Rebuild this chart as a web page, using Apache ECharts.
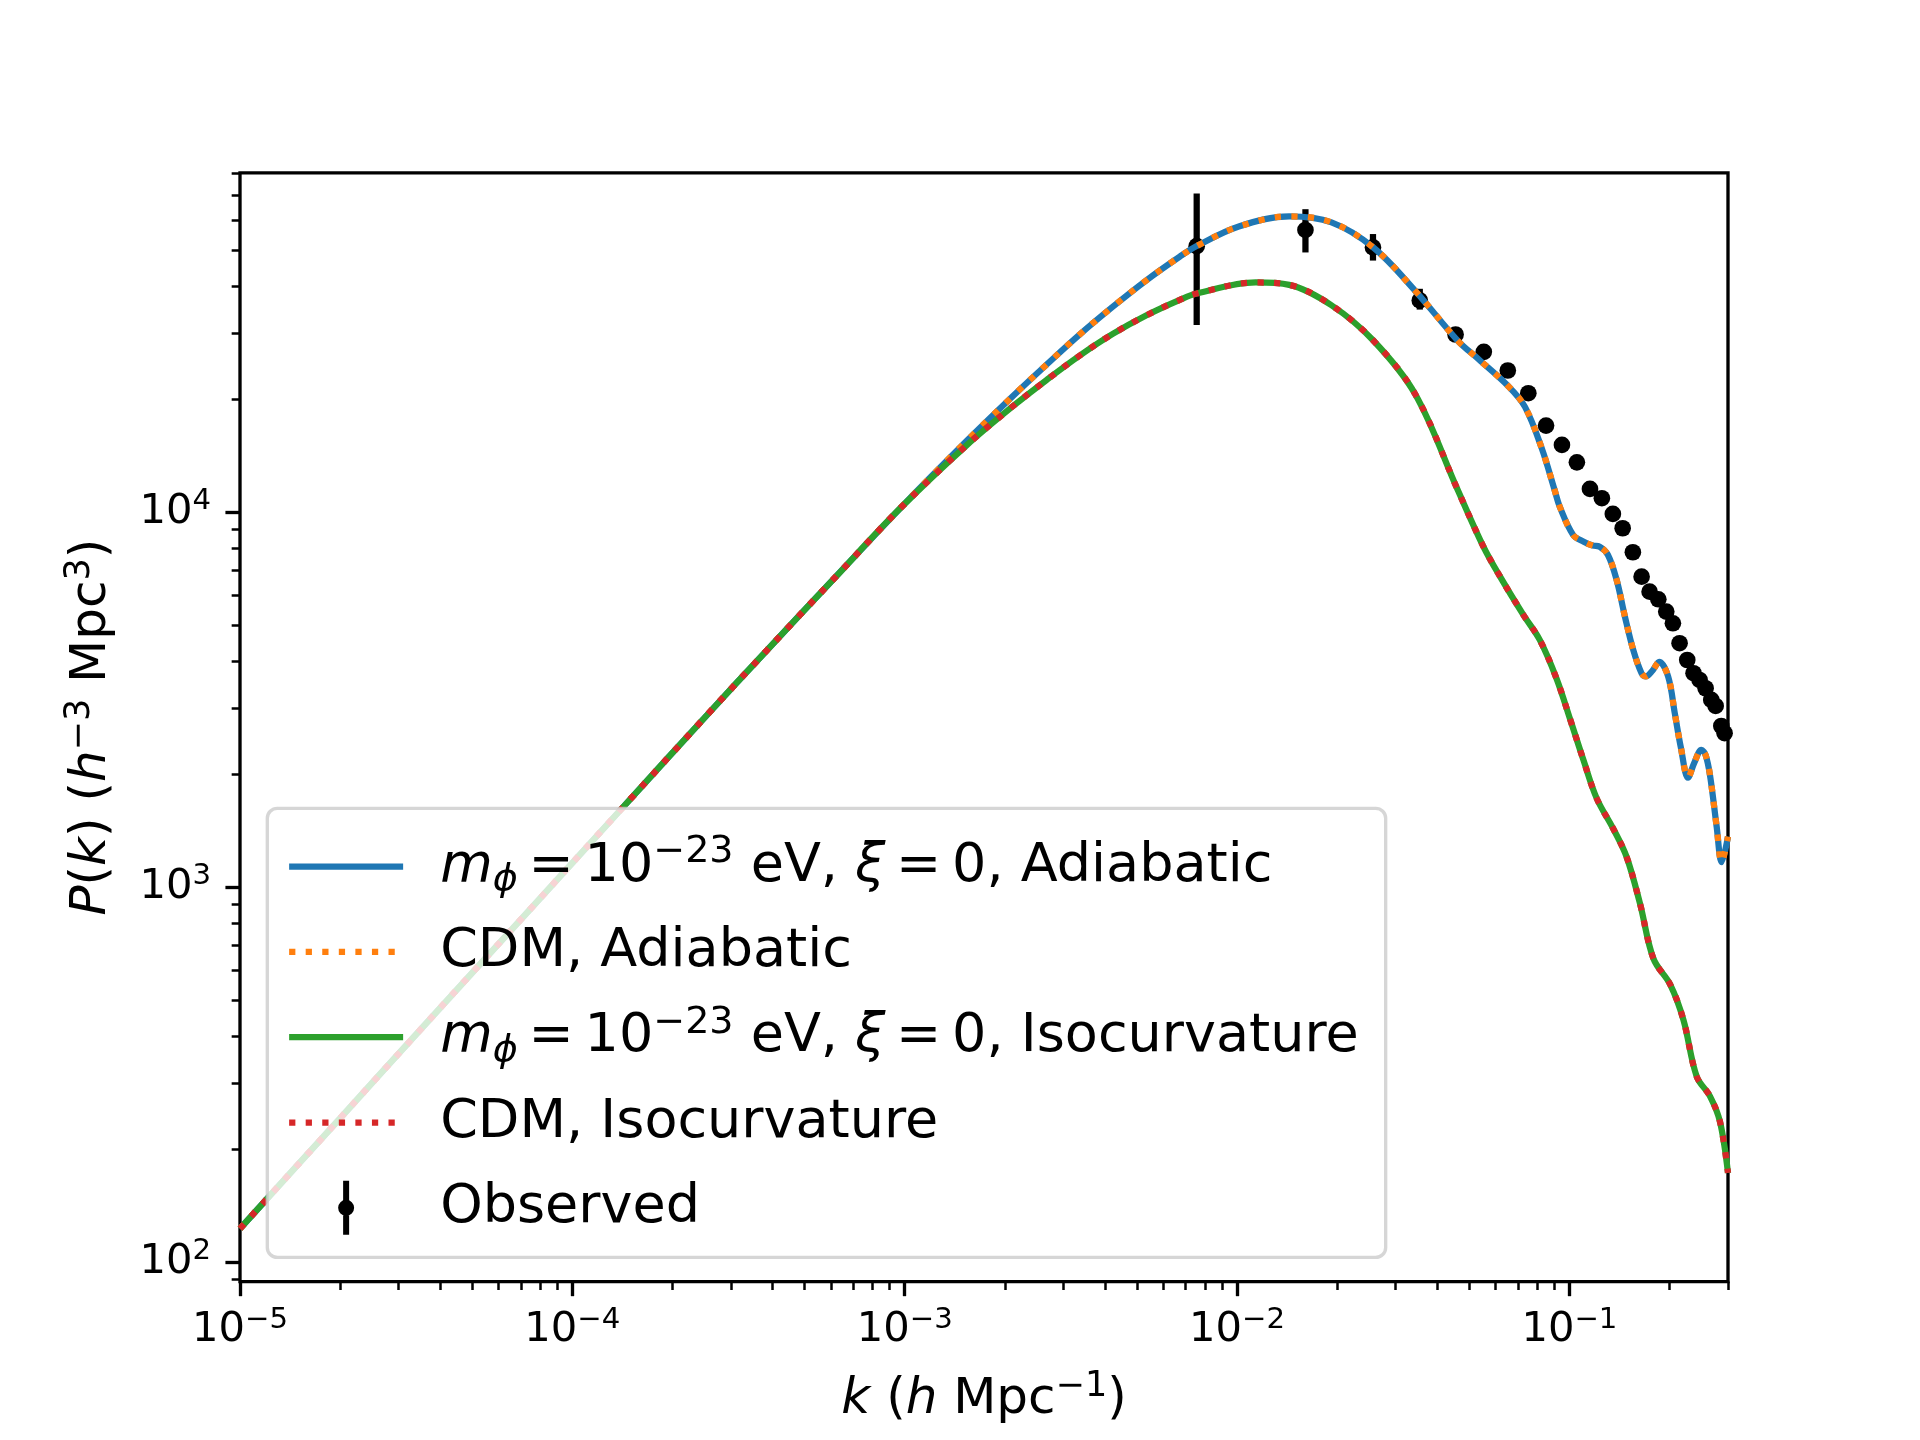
<!DOCTYPE html>
<html>
<head>
<meta charset="utf-8">
<title>Matter power spectrum</title>
<script src="https://cdn.jsdelivr.net/npm/echarts@6.0.0/dist/echarts.min.js"></script>
<style>
  html, body { margin: 0; padding: 0; background: #fff; }
  #chart { width: 1920px; height: 1440px; }
</style>
</head>
<body>
<div id="chart"></div>
<script>
// adiabatic spectrum (fuzzy DM and CDM lie on top of each other)
const kAdiabatic = [1.0e-5, 2.0e-5, 3.73e-5, 7.45e-5, 1.44e-4, 2.535e-4, 3.842e-4, 6.096e-4, 9.674e-4, 1.535e-3,
  2.121e-3, 2.673e-3, 3.365e-3, 4.239e-3, 5.340e-3, 6.726e-3, 7.56e-3, 0.01012, 0.01435, 0.01923,
  0.0257, 0.0344, 0.0461, 0.0533, 0.0655, 0.0735, 0.0826, 0.0902, 0.0935, 0.1026,
  0.1104, 0.1175, 0.1233, 0.1306, 0.1387, 0.1469, 0.1556, 0.1648, 0.1698, 0.1778,
  0.1862, 0.1982, 0.2075, 0.2163, 0.2275, 0.2371, 0.2495, 0.2570, 0.2649, 0.2773,
  0.2871, 0.3];
const pAdiabatic = [123, 242, 445, 872, 1657, 2871, 4279, 6621, 10230, 15490,
  20460, 24770, 29820, 35400, 41590, 48060, 51290, 57810, 61520, 59290,
  50820, 38900, 28710, 25590, 21680, 19100, 14790, 11480, 10350, 8700,
  8350, 8150, 8094, 7693, 6600, 5267, 4294, 3722, 3650, 3780,
  3990, 3645, 2911, 2366, 1959, 2140, 2325, 2250, 1986, 1452,
  1167, 1365];

// isocurvature spectrum (again both models overlap)
const kIsocurv = [1.0e-5, 2.0e-5, 3.73e-5, 7.45e-5, 1.44e-4, 2.535e-4, 3.842e-4, 6.096e-4, 9.674e-4, 1.535e-3,
  2.121e-3, 2.673e-3, 3.365e-3, 4.239e-3, 5.340e-3, 6.726e-3, 7.56e-3, 0.01138, 0.01435, 0.01923,
  0.0257, 0.0344, 0.0461, 0.0550, 0.0618, 0.0726, 0.0815, 0.0914, 0.1005, 0.1102,
  0.1208, 0.1355, 0.1486, 0.1629, 0.1791, 0.2009, 0.2203, 0.2415, 0.2649, 0.2838,
  0.3];
const pIsocurv = [123, 242, 445, 872, 1657, 2871, 4279, 6621, 10230, 15080,
  19210, 22540, 26190, 29940, 33520, 36850, 38300, 41000, 40400, 35650,
  28710, 20610, 11480, 8128, 6745, 5333, 4560, 3606, 2805, 2183,
  1726, 1432, 1205, 908, 644, 551, 443, 313, 277, 237,
  173];

// observed band powers
const kObserved = [0.00756, 0.01606, 0.02564, 0.03546, 0.04544, 0.05526, 0.06525, 0.07522, 0.08505, 0.09495,
  0.1053, 0.1153, 0.1252, 0.1351, 0.1446, 0.1552, 0.1649, 0.1743, 0.1851, 0.1956,
  0.2048, 0.2145, 0.2262, 0.2363, 0.2464, 0.2569, 0.2672, 0.2754, 0.2864, 0.2930];
const pObserved = [51240, 56600, 50860, 36720, 29790, 26780, 23880, 20770, 17030, 15120,
  13590, 11540, 10900, 9900, 9065, 7823, 6734, 6142, 5861, 5433,
  5058, 4475, 4037, 3722, 3571, 3394, 3159, 3044, 2692, 2575];
// error bars, only visible on the first four points
const errLow = [31600, 49300, 46900, 34710];
const errHigh = [70800, 64300, 55200, 39440];

const xMajor = [1e-5, 1e-4, 1e-3, 1e-2, 1e-1];
const yMajor = [1e2, 1e3, 1e4];
const xMin = 1e-5, xMax = 0.3;
const yMin = 88.8, yMax = 80400;

function minorTicks(lo, hi, e0, e1) {
  const out = [];
  for (let e = e0; e <= e1; e++) {
    for (let m = 2; m <= 9; m++) {
      const v = Number((m * Math.pow(10, e)).toPrecision(6));
      if (v >= lo && v <= hi) out.push(v);
    }
  }
  return out;
}
const xMinor = minorTicks(xMin, xMax, -5, -1);
const yMinor = minorTicks(yMin, yMax, 1, 4);

const PT = 300 / 72;          // figure was 300 dpi
const FONT = 'DejaVu Sans';
const TS = '\u2009';          // thin space, like mathtext around "="
const NAMES = {
  fdmAdi: 'm_phi=1e-23 eV, xi=0, Adiabatic',
  cdmAdi: 'CDM, Adiabatic',
  fdmIso: 'm_phi=1e-23 eV, xi=0, Isocurvature',
  cdmIso: 'CDM, Isocurvature',
  obs: 'Observed'
};
const LEGEND_TEXT = {};
LEGEND_TEXT[NAMES.fdmAdi] = '{i|m}{sub|ϕ}{n|' + TS + '=' + TS + '10}{sup|−23}{n| eV, }{i|ξ}{n|' + TS + '=' + TS + '0, Adiabatic}';
LEGEND_TEXT[NAMES.cdmAdi] = '{n|CDM, Adiabatic}';
LEGEND_TEXT[NAMES.fdmIso] = '{i|m}{sub|ϕ}{n|' + TS + '=' + TS + '10}{sup|−23}{n| eV, }{i|ξ}{n|' + TS + '=' + TS + '0, Isocurvature}';
LEGEND_TEXT[NAMES.cdmIso] = '{n|CDM, Isocurvature}';
LEGEND_TEXT[NAMES.obs] = '{n|Observed}';

// errorbar handle: bar 54 tall with a dot, padded to the 66px row
const ERRBAR_ICON = 'path://M8,-6 L8.01,-6 Z M8,60 L8.01,60 Z M5,0 L11,0 L11,54 L5,54 Z M0,27 A8,8 0 1,1 16,27 A8,8 0 1,1 0,27 Z';

function pairs(xs, ys) {
  return xs.map((x, i) => [x, ys[i]]);
}

function powLabel(v) {
  const e = Math.round(Math.log10(v));
  return '{n|10}{sup|' + (e < 0 ? '−' + (-e) : e) + '}';
}

const tickRich = {
  n: { fontFamily: FONT, fontSize: 10 * PT, lineHeight: 50, color: '#000' },
  sup: { fontFamily: FONT, fontSize: 7 * PT, lineHeight: 31, verticalAlign: 'top', color: '#000' }
};
const nameRich = {
  n: { fontFamily: FONT, fontSize: 12 * PT, lineHeight: 60, color: '#000' },
  i: { fontFamily: FONT, fontSize: 12 * PT, fontStyle: 'italic', lineHeight: 60, color: '#000' },
  sup: { fontFamily: FONT, fontSize: 8.4 * PT, lineHeight: 36, verticalAlign: 'top', color: '#000' }
};
const legendRich = {
  n: { fontFamily: FONT, fontSize: 54, lineHeight: 66, color: '#000' },
  i: { fontFamily: FONT, fontSize: 54, fontStyle: 'italic', lineHeight: 66, color: '#000' },
  sup: { fontFamily: FONT, fontSize: 38, lineHeight: 30, verticalAlign: 'top', color: '#000' },
  sub: { fontFamily: FONT, fontSize: 38, fontStyle: 'italic', lineHeight: 30, verticalAlign: 'bottom', color: '#000' }
};

const gridBox = { left: 240, top: 172.8, right: 1920 - 1728, bottom: 1440 - 1281.6 };

const chart = echarts.init(document.getElementById('chart'), null, { renderer: 'canvas' });

chart.setOption({
  backgroundColor: '#fff',
  animation: false,
  textStyle: { fontFamily: FONT },
  grid: Object.assign({
    show: true,
    borderColor: '#000',
    borderWidth: 0.8 * PT,
    backgroundColor: 'transparent',
    outerBoundsMode: 'none'
  }, gridBox),
  xAxis: [{
    type: 'log',
    logBase: 10,
    min: xMin,
    max: xMax,
    position: 'bottom',
    axisLine: { show: false },
    splitLine: { show: false },
    axisTick: { show: true, customValues: xMajor, length: 3.5 * PT, lineStyle: { color: '#000', width: 0.8 * PT } },
    axisLabel: { customValues: xMajor, margin: 24, formatter: powLabel, rich: tickRich },
    name: '{i|k}{n| (}{i|h}{n| Mpc}{sup|−1}{n|)}',
    nameLocation: 'middle',
    nameGap: 88,
    nameTextStyle: { rich: nameRich }
  }, {
    type: 'log',
    logBase: 10,
    min: xMin,
    max: xMax,
    position: 'bottom',
    axisLine: { show: false },
    splitLine: { show: false },
    axisLabel: { show: false },
    axisTick: { show: true, customValues: xMinor, length: 2 * PT, lineStyle: { color: '#000', width: 0.6 * PT } }
  }],
  yAxis: [{
    type: 'log',
    logBase: 10,
    min: yMin,
    max: yMax,
    position: 'left',
    axisLine: { show: false },
    splitLine: { show: false },
    axisTick: { show: true, customValues: yMajor, length: 3.5 * PT, lineStyle: { color: '#000', width: 0.8 * PT } },
    axisLabel: { customValues: yMajor, margin: 29, formatter: powLabel, rich: tickRich },
    name: '{i|P}{n|(}{i|k}{n|) (}{i|h}{sup|−3}{n| Mpc}{sup|3}{n|)}',
    nameLocation: 'middle',
    nameRotate: 90,
    nameGap: 118,
    nameTextStyle: { rich: nameRich }
  }, {
    type: 'log',
    logBase: 10,
    min: yMin,
    max: yMax,
    position: 'left',
    axisLine: { show: false },
    splitLine: { show: false },
    axisLabel: { show: false },
    axisTick: { show: true, customValues: yMinor, length: 2 * PT, lineStyle: { color: '#000', width: 0.6 * PT } }
  }],
  legend: {
    data: [
      NAMES.fdmAdi,
      NAMES.cdmAdi,
      NAMES.fdmIso,
      NAMES.cdmIso,
      { name: NAMES.obs, icon: ERRBAR_ICON, itemStyle: { opacity: 1 } }
    ],
    orient: 'vertical',
    left: 267.3,
    top: 808.3,
    padding: [25.3, 27, 16.6, 18.7],
    itemGap: 25.3,
    itemWidth: 114,
    itemHeight: 66,
    selectedMode: false,
    backgroundColor: 'rgba(255,255,255,0.8)',
    borderColor: 'rgba(204,204,204,0.8)',
    borderWidth: 0.8 * PT,
    borderRadius: 10,
    itemStyle: { opacity: 0 },
    lineStyle: { width: 1.5 * PT, cap: 'butt' },
    formatter: n => LEGEND_TEXT[n],
    textStyle: { padding: [0, 0, 0, 32], rich: legendRich }
  },
  series: [{
    name: NAMES.fdmAdi,
    type: 'line',
    data: pairs(kAdiabatic, pAdiabatic),
    symbol: 'none',
    smooth: 0.35,
    color: '#1f77b4',
    lineStyle: { width: 1.5 * PT, color: '#1f77b4' }
  }, {
    name: NAMES.cdmAdi,
    type: 'line',
    data: pairs(kAdiabatic, pAdiabatic),
    symbol: 'none',
    smooth: 0.35,
    color: '#ff7f0e',
    lineStyle: { width: 1.5 * PT, color: '#ff7f0e', type: [1.5 * PT, 2.475 * PT], cap: 'butt' }
  }, {
    name: NAMES.fdmIso,
    type: 'line',
    data: pairs(kIsocurv, pIsocurv),
    symbol: 'none',
    smooth: 0.35,
    color: '#2ca02c',
    lineStyle: { width: 1.5 * PT, color: '#2ca02c' }
  }, {
    name: NAMES.cdmIso,
    type: 'line',
    data: pairs(kIsocurv, pIsocurv),
    symbol: 'none',
    smooth: 0.35,
    color: '#d62728',
    lineStyle: { width: 1.5 * PT, color: '#d62728', type: [1.5 * PT, 2.475 * PT], cap: 'butt' }
  }, {
    name: 'Observed errors',
    type: 'custom',
    data: errLow.map((lo, i) => [kObserved[i], lo, errHigh[i]]),
    encode: { x: 0, y: [1, 2] },
    renderItem: function (params, api) {
      const top = api.coord([api.value(0), api.value(2)]);
      const bot = api.coord([api.value(0), api.value(1)]);
      return {
        type: 'line',
        shape: { x1: top[0], y1: top[1], x2: bot[0], y2: bot[1] },
        style: { stroke: '#000', lineWidth: 1.5 * PT }
      };
    }
  }, {
    name: NAMES.obs,
    type: 'scatter',
    data: pairs(kObserved, pObserved),
    symbol: 'circle',
    symbolSize: 4 * PT,
    color: '#000',
    itemStyle: { color: '#000', opacity: 1 }
  }]
});
</script>
</body>
</html>
